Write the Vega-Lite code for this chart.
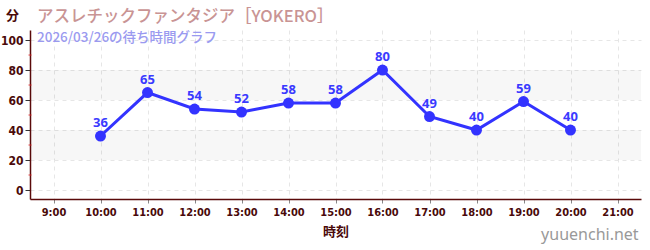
{
  "$schema": "https://vega.github.io/schema/vega-lite/v6.json",
  "width": 611,
  "height": 169,
  "autosize": {"type": "none"},
  "padding": {"left": 30, "top": 30, "right": 9, "bottom": 51},
  "background": "white",
  "config": {
    "view": {"stroke": null},
    "font": "Noto Sans CJK JP",
    "axis": {
      "labelOverlap": false,
      "labelBound": false,
      "labelFont": "DejaVu Sans Condensed",
      "labelFontWeight": "bold",
      "labelColor": "#4a0a0a",
      "domainColor": "#5a0a0a",
      "domainWidth": 1.5,
      "grid": true,
      "gridColor": "#e6e6e6",
      "gridDash": [4, 4],
      "titleFont": "Noto Sans CJK JP",
      "titleFontSize": 13,
      "titleFontWeight": "bold",
      "titleColor": "#4a0a0a"
    }
  },
  "title": {
    "text": "アスレチックファンタジア［YOKERO］",
    "subtitle": "2026/03/26の待ち時間グラフ",
    "anchor": "start",
    "frame": "group",
    "dx": 7,
    "offset": -35,
    "font": "Noto Sans CJK JP",
    "fontSize": 16.5,
    "fontWeight": 500,
    "color": "#c99494",
    "subtitleFont": "Noto Sans CJK JP",
    "subtitleFontSize": 13.5,
    "subtitleFontWeight": 500,
    "subtitleColor": "#9a9af0",
    "subtitlePadding": 5
  },
  "datasets": {
    "waits": [
      {"hour": 10, "wait": 36},
      {"hour": 11, "wait": 65},
      {"hour": 12, "wait": 54},
      {"hour": 13, "wait": 52},
      {"hour": 14, "wait": 58},
      {"hour": 15, "wait": 58},
      {"hour": 16, "wait": 80},
      {"hour": 17, "wait": 49},
      {"hour": 18, "wait": 40},
      {"hour": 19, "wait": 59},
      {"hour": 20, "wait": 40}
    ],
    "bands": [
      {"lo": 20, "hi": 40},
      {"lo": 60, "hi": 80}
    ],
    "minor": [{"v": 10}, {"v": 30}, {"v": 50}, {"v": 70}, {"v": 90}],
    "site": [{"site": "yuuenchi.net", "hx": 21.45, "wy": -30}]
  },
  "layer": [
    {
      "data": {"name": "bands"},
      "mark": {"type": "rect", "fill": "#000000", "opacity": 0.03},
      "encoding": {
        "y": {
          "field": "lo", "type": "quantitative",
          "scale": {"domain": [-6, 106.7], "nice": false, "zero": false},
          "axis": {"values": [0, 20, 40, 60, 80, 100], "labelOverlap": false, "title": "分", "titleAngle": 0, "titleX": -18, "titleY": -15, "titleAlign": "center", "titleBaseline": "middle", "labelFontSize": 12, "labelPadding": 2, "tickColor": "#333333", "tickSize": 5}
        },
        "y2": {"field": "hi"}
      }
    },
    {
      "data": {"name": "waits"},
      "mark": {"type": "line", "color": "#3333ff", "strokeWidth": 3},
      "encoding": {
        "x": {
          "field": "hour", "type": "quantitative",
          "scale": {"domain": [8.5, 21.5], "nice": false, "zero": false},
          "axis": {"values": [9, 10, 11, 12, 13, 14, 15, 16, 17, 18, 19, 20, 21], "labelOverlap": false, "labelExpr": "datum.value + ':00'", "title": "時刻", "titlePadding": 8, "labelFontSize": 11, "labelPadding": 3, "tickColor": "#888888", "tickSize": 4}
        },
        "y": {
          "field": "wait", "type": "quantitative",
          "axis": {"values": [0, 20, 40, 60, 80, 100], "labelOverlap": false, "title": "分", "titleAngle": 0, "titleX": -18, "titleY": -15, "titleAlign": "center", "titleBaseline": "middle", "labelFontSize": 12, "labelPadding": 2, "tickColor": "#333333", "tickSize": 5}
        }
      }
    },
    {
      "data": {"name": "waits"},
      "mark": {"type": "circle", "color": "#3333ff", "size": 120, "opacity": 1},
      "encoding": {
        "x": {
          "field": "hour", "type": "quantitative",
          "axis": {"values": [9, 10, 11, 12, 13, 14, 15, 16, 17, 18, 19, 20, 21], "labelOverlap": false, "labelExpr": "datum.value + ':00'", "title": "時刻", "titlePadding": 8, "labelFontSize": 11, "labelPadding": 3, "tickColor": "#888888", "tickSize": 4}
        },
        "y": {
          "field": "wait", "type": "quantitative",
          "axis": {"values": [0, 20, 40, 60, 80, 100], "labelOverlap": false, "title": "分", "titleAngle": 0, "titleX": -18, "titleY": -15, "titleAlign": "center", "titleBaseline": "middle", "labelFontSize": 12, "labelPadding": 2, "tickColor": "#333333", "tickSize": 5}
        }
      }
    },
    {
      "data": {"name": "waits"},
      "mark": {"type": "text", "color": "#3a3aff", "fontSize": 13, "fontWeight": "bold", "dy": -13, "font": "Noto Sans"},
      "encoding": {
        "x": {
          "field": "hour", "type": "quantitative",
          "axis": {"values": [9, 10, 11, 12, 13, 14, 15, 16, 17, 18, 19, 20, 21], "labelOverlap": false, "labelExpr": "datum.value + ':00'", "title": "時刻", "titlePadding": 8, "labelFontSize": 11, "labelPadding": 3, "tickColor": "#888888", "tickSize": 4}
        },
        "y": {
          "field": "wait", "type": "quantitative",
          "axis": {"values": [0, 20, 40, 60, 80, 100], "labelOverlap": false, "title": "分", "titleAngle": 0, "titleX": -18, "titleY": -15, "titleAlign": "center", "titleBaseline": "middle", "labelFontSize": 12, "labelPadding": 2, "tickColor": "#333333", "tickSize": 5}
        },
        "text": {"field": "wait", "type": "quantitative"}
      }
    },
    {
      "data": {"name": "minor"},
      "mark": {"type": "tick", "color": "#dd2222", "orient": "horizontal", "size": 3, "thickness": 1.2, "x": 0},
      "encoding": {
        "y": {
          "field": "v", "type": "quantitative",
          "axis": {"values": [0, 20, 40, 60, 80, 100], "labelOverlap": false, "title": "分", "titleAngle": 0, "titleX": -18, "titleY": -15, "titleAlign": "center", "titleBaseline": "middle", "labelFontSize": 12, "labelPadding": 2, "tickColor": "#333333", "tickSize": 5}
        }
      }
    },
    {
      "data": {"name": "site"},
      "mark": {"type": "text", "color": "#999999", "fontSize": 16, "align": "right", "baseline": "middle", "font": "Noto Sans"},
      "encoding": {
        "x": {
          "field": "hx", "type": "quantitative",
          "axis": {"values": [9, 10, 11, 12, 13, 14, 15, 16, 17, 18, 19, 20, 21], "labelOverlap": false, "labelExpr": "datum.value + ':00'", "title": "時刻", "titlePadding": 8, "labelFontSize": 11, "labelPadding": 3, "tickColor": "#888888", "tickSize": 4}
        },
        "y": {
          "field": "wy", "type": "quantitative",
          "axis": {"values": [0, 20, 40, 60, 80, 100], "labelOverlap": false, "title": "分", "titleAngle": 0, "titleX": -18, "titleY": -15, "titleAlign": "center", "titleBaseline": "middle", "labelFontSize": 12, "labelPadding": 2, "tickColor": "#333333", "tickSize": 5}
        },
        "text": {"field": "site"}
      }
    }
  ]
}
